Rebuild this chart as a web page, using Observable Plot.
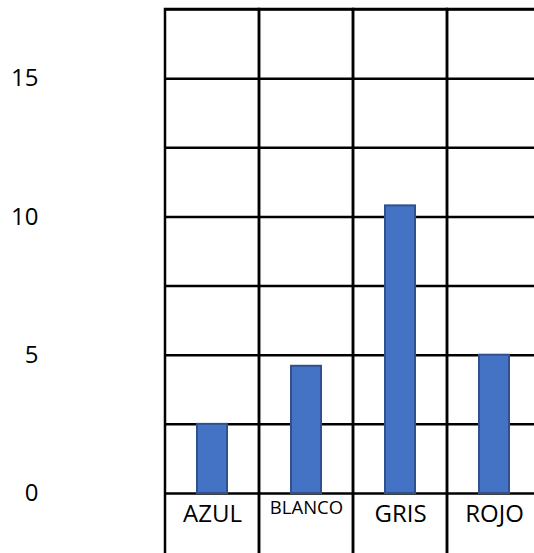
<!DOCTYPE html>
<html>
<head>
<meta charset="utf-8">
<script src="https://cdn.jsdelivr.net/npm/d3@7"></script>
<script src="https://cdn.jsdelivr.net/npm/@observablehq/plot@0.6"></script>
<style>
  html, body { margin: 0; padding: 0; background: #fff; }
  #chart svg { display: block; }
</style>
</head>
<body>
<div id="chart"></div>
<script>
const categories = ["AZUL", "BLANCO", "GRIS", "ROJO"];
const values = [2.5, 4.6, 10.4, 5];
const yTicks = [0, 5, 10, 15];
const gridLevels = [0, 2.5, 5, 7.5, 10, 12.5, 15, 17.5];

const data = categories.map((c, i) => ({cat: c, val: values[i]}));

const chart = Plot.plot({
  width: 534,
  height: 553,
  marginLeft: 165,
  marginRight: 0,
  marginTop: 9,
  marginBottom: 60,
  style: {fontFamily: "'Open Sans', sans-serif", fontSize: "24px", color: "#000", background: "#fff"},
  x: {domain: categories, range: [165, 541], padding: 0, axis: null},
  y: {domain: [0, 17.5], axis: null},
  marks: [
    Plot.ruleY(gridLevels, {stroke: "#000", strokeWidth: 2.5}),
    Plot.barY(categories, {x: d => d, y1: -3, y2: 17.5, fill: "none", stroke: "#000", strokeWidth: 2.5}),
    Plot.barY(data, {x: "cat", y: "val", fill: "#4472C4", stroke: "#2F528F", strokeWidth: 2, insetLeft: 32, insetRight: 32}),
    Plot.axisY(yTicks, {tickSize: 0, tickPadding: 127, fontSize: 24, textAnchor: "end", fill: "#000", label: null}),
    Plot.text(categories.filter(d => d !== "BLANCO"), {x: d => d, text: d => d, frameAnchor: "bottom", lineAnchor: "top", dy: 11, fontSize: 24, fill: "#000"}),
    Plot.text(categories.filter(d => d === "BLANCO"), {x: d => d, text: d => d, frameAnchor: "bottom", lineAnchor: "top", dy: 7, fontSize: 18.5, fill: "#000"})
  ]
});
document.getElementById("chart").appendChild(chart);
</script>
</body>
</html>
